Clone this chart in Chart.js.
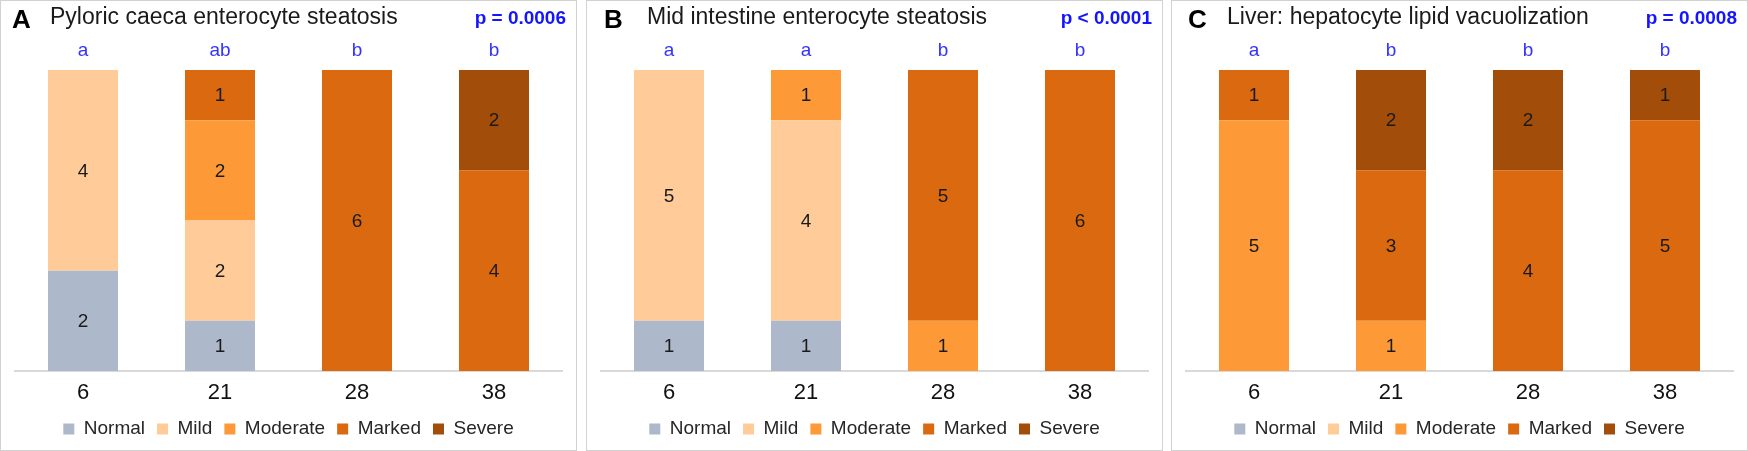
<!DOCTYPE html>
<html lang="en">
<head>
<meta charset="UTF-8">
<title>Steatosis and lipid vacuolization scores</title>
<script src="https://cdn.jsdelivr.net/npm/chart.js"></script>
<style>
    body, html {
        margin: 0;
        padding: 0;
        background: #fff;
    }
    body {
        width: 1748px;
        height: 451px;
        position: relative;
        overflow: hidden;
        font-family: 'Liberation Sans', Arial, sans-serif;
    }
    .panel {
        position: absolute;
        top: 0;
        width: 577px;
        height: 451px;
    }
    .frame {
        position: absolute;
        left: 0; top: 0; right: 0; bottom: 0;
        border: 1.5px solid #d2d2d2;
    }
    .panel canvas {
        position: absolute;
        left: 0;
        top: 0;
    }
    .letter {
        position: absolute;
        top: 6px;
        font: bold 26px/26px 'Liberation Sans', Arial, sans-serif;
        color: #000;
    }
    .title {
        position: absolute;
        top: 4.5px;
        font: 23px/23px 'Liberation Sans', Arial, sans-serif;
        color: #1a1a1a;
        white-space: nowrap;
    }
    .pval {
        position: absolute;
        right: 11px;
        top: 8px;
        font: bold 19px/19px 'Liberation Sans', Arial, sans-serif;
        color: #1414ff;
        white-space: nowrap;
    }
</style>
</head>
<body>

<script>
    // Sampling days and severity grades
    const days = ['6', '21', '28', '38'];
    const grades = ['Normal', 'Mild', 'Moderate', 'Marked', 'Severe'];
    const gradeColours = ['#ADB9CA', '#FFCC99', '#FD9A37', '#DA690F', '#A24E0A'];

    // A - pyloric caeca (number of fish per grade)
    const pcNormal   = [2, 1, 0, 0];
    const pcMild     = [4, 2, 0, 0];
    const pcModerate = [0, 2, 0, 0];
    const pcMarked   = [0, 1, 6, 4];
    const pcSevere   = [0, 0, 0, 2];
    const pcLetters  = ['a', 'ab', 'b', 'b'];

    // B - mid intestine
    const miNormal   = [1, 1, 0, 0];
    const miMild     = [5, 4, 0, 0];
    const miModerate = [0, 1, 1, 0];
    const miMarked   = [0, 0, 5, 6];
    const miSevere   = [0, 0, 0, 0];
    const miLetters  = ['a', 'a', 'b', 'b'];

    // C - liver
    const lvNormal   = [0, 0, 0, 0];
    const lvMild     = [0, 0, 0, 0];
    const lvModerate = [5, 1, 0, 0];
    const lvMarked   = [1, 3, 4, 5];
    const lvSevere   = [0, 2, 2, 1];
    const lvLetters  = ['a', 'b', 'b', 'b'];

    const panelTags = ['A', 'B', 'C'];
    const panelTitles = ['Pyloric caeca enterocyte steatosis', 'Mid intestine enterocyte steatosis', 'Liver: hepatocyte lipid vacuolization'];
    const pValues = ['p = 0.0006', 'p < 0.0001', 'p = 0.0008'];

    const panelSeries = [
        [pcNormal, pcMild, pcModerate, pcMarked, pcSevere],
        [miNormal, miMild, miModerate, miMarked, miSevere],
        [lvNormal, lvMild, lvModerate, lvMarked, lvSevere]
    ];
    const panelLetters = [pcLetters, miLetters, lvLetters];

    // layout
    const panelLeft = [0, 586, 1171];
    const tagLeft = [12, 18, 17];
    const titleLeft = [50, 61, 56];

    const FONT = "'Liberation Sans', Arial, sans-serif";

    // numbers inside the segments + significance letters above the bars
    const barText = {
        id: 'barText',
        afterDatasetsDraw(chart, args, opts) {
            const ctx = chart.ctx;
            ctx.save();
            ctx.font = '19px ' + FONT;
            ctx.fillStyle = '#1a1a1a';
            ctx.textAlign = 'center';
            ctx.textBaseline = 'middle';
            chart.data.datasets.forEach((ds, di) => {
                const meta = chart.getDatasetMeta(di);
                meta.data.forEach((bar, i) => {
                    const v = ds.data[i];
                    if (!v) return;
                    const p = bar.getProps(['x', 'y', 'base'], true);
                    ctx.fillText(String(v), p.x, (p.y + p.base) / 2 + 1);
                });
            });
            ctx.fillStyle = '#3434ff';
            ctx.textBaseline = 'alphabetic';
            const xs = chart.scales.x;
            opts.letters.forEach((t, i) => {
                ctx.fillText(t, xs.getPixelForValue(i), chart.chartArea.top - 14);
            });
            ctx.restore();
        }
    };

    panelSeries.forEach((series, pi) => {
        const panel = document.createElement('div');
        panel.className = 'panel';
        panel.style.left = panelLeft[pi] + 'px';
        panel.innerHTML =
            '<div class="frame"></div>' +
            '<canvas width="577" height="451"></canvas>' +
            '<div class="letter" style="left:' + tagLeft[pi] + 'px">' + panelTags[pi] + '</div>' +
            '<div class="title" style="left:' + titleLeft[pi] + 'px">' + panelTitles[pi] + '</div>' +
            '<div class="pval">' + pValues[pi].replace('<', '&lt;') + '</div>';
        document.body.appendChild(panel);

        const ctx = panel.querySelector('canvas').getContext('2d');
        new Chart(ctx, {
            type: 'bar',
            data: {
                labels: days,
                datasets: series.map((vals, gi) => ({
                    label: grades[gi],
                    data: vals,
                    backgroundColor: gradeColours[gi],
                    borderWidth: 0,
                    barPercentage: 0.511,
                    categoryPercentage: 1
                }))
            },
            options: {
                responsive: false,
                animation: false,
                layout: {
                    padding: { top: 70, left: 14.5, right: 14.5, bottom: 2.5 }
                },
                scales: {
                    x: {
                        stacked: true,
                        grid: { display: false, drawTicks: false },
                        border: { display: true, color: '#d9d9d9', width: 2 },
                        ticks: {
                            padding: 9,
                            color: '#111',
                            font: { size: 22, family: FONT }
                        },
                        afterFit: s => { s.height = 36.5; }
                    },
                    y: {
                        stacked: true,
                        display: false,
                        min: 0,
                        max: 6
                    }
                },
                plugins: {
                    legend: {
                        position: 'bottom',
                        labels: {
                            boxWidth: 11,
                            boxHeight: 11,
                            padding: 12,
                            color: '#262626',
                            font: { size: 19, family: FONT }
                        }
                    },
                    tooltip: { enabled: false },
                    barText: { letters: panelLetters[pi] }
                }
            },
            plugins: [barText]
        });
    });
</script>
</body>
</html>
